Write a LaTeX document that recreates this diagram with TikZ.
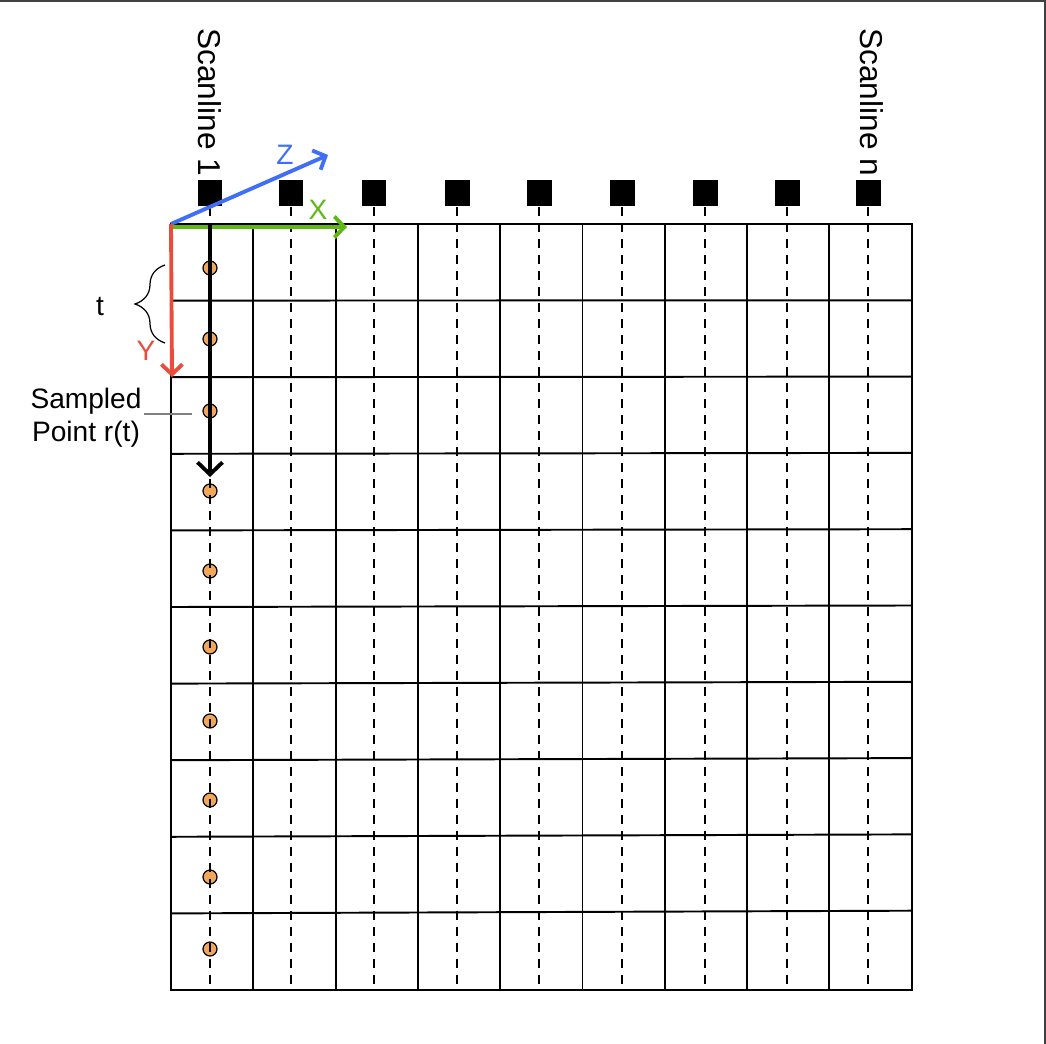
\documentclass[tikz,border=0pt]{standalone}
\usepackage{fontspec}
\setmainfont{Liberation Sans}
\usetikzlibrary{arrows.meta,decorations.pathreplacing}
\definecolor{zblue}{RGB}{64,110,245}
\definecolor{xgreen}{RGB}{96,184,24}
\definecolor{yred}{RGB}{235,75,60}
\definecolor{dotorange}{RGB}{242,166,90}
\tikzset{
  gridline/.style={line width=1.1pt},
  scanline/.style={line width=1.2pt, dash pattern=on 0.18cm off 0.14cm},
  sensor/.style={fill=black, minimum width=0.5cm, minimum height=0.54cm, inner sep=0pt},
  sample/.style={circle, draw=black, fill=dotorange, minimum size=0.28cm, inner sep=0pt, line width=0.7pt},
  axis/.style={line width=2.2pt, -{Straight Barb[length=0.2cm,width=0.42cm]}},
  lbl/.style={font=\fontsize{16}{19}\selectfont},
  scanlbl/.style={font=\fontsize{18}{21}\selectfont, rotate=-90, anchor=west, inner sep=0pt},
}

\begin{document}
\begin{tikzpicture}[x=0.02cm,y=-0.02cm]
        % taille de la page (en pixels de l'image)
        \useasboundingbox (0,0) rectangle (1046,1044);
        \draw[darkgray, line width=0.8pt] (0,1) -- (1045,1) -- (1045,1044);

        % grille 9 x 10
        \draw[gridline] (171,224) rectangle (912,990);
        \foreach \i in {1,...,8}
          \draw[gridline] (171+\i*82.3,224) -- (171+\i*82.3,990);
        \foreach \j in {1,...,9}
          \draw[gridline] (171,224+\j*76.6) -- (912,224+\j*76.6-0.3*\j);

        % points echantillonnes sur la premiere ligne de balayage
        \foreach \y [count=\k] in {268,339,411,491,571,647,721,800,877,949}
          \node[sample] (pt\k) at (210,\y) {};

        % capteurs et lignes de balayage
        \foreach \x [count=\k] in {210,291,374,457,539,622,705,787,868} {
          \node[sensor] (sq\k) at (\x,193) {};
          \coordinate (end\k) at (\x,990);
          \draw[scanline] (sq\k.south) -- (end\k);
        }
        \node[scanlbl] (scan1) at (210,28) {Scanline 1};
        \node[scanlbl] (scann) at (872,28) {Scanline n};

        % repere X, Y, Z
        \coordinate (O) at (171,224);
        \coordinate (zend) at (328,155);
        \coordinate (xend) at (347,227);
        \coordinate (yend) at (172,377);
        \draw[axis, zblue] (O) -- (zend);
        \draw[axis, xgreen] (O |- xend) -- (xend);
        \draw[axis, yred] (O) -- (yend);
        \node[lbl, zblue] (zlab) at (285,155) {Z};
        \node[lbl, xgreen] (xlab) at (318,210) {X};
        \node[lbl, yred] (ylab) at (146,351) {Y};

        % direction de balayage
        \coordinate (scantop) at (210,224);
        \coordinate (scanend) at (210,477);
        \draw[axis, line width=2.2pt, -{Straight Barb[length=0.24cm,width=0.5cm]}] (scantop) -- (scanend);

        % pas t
        \draw[decorate, decoration={brace, amplitude=0.6cm}, line width=0.7pt] (165,343) -- (165,265);
        \node[lbl] (tlab) at (100,307) {t};

        % point echantillonne
        \node[lbl, align=center, inner sep=1pt] (samp) at (86,418) {Sampled\\Point r(t)};
        \coordinate (samptip) at (192,414);
        \draw[gray, line width=0.6pt] (samp.east |- samptip) -- (samptip);
\end{tikzpicture}
\end{document}
